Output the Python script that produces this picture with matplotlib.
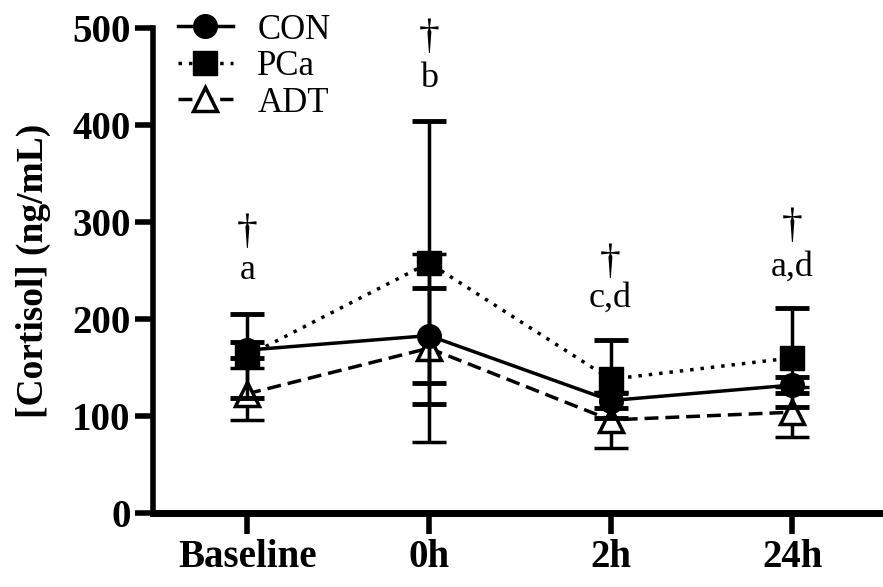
import matplotlib
matplotlib.use('Agg')
import matplotlib.pyplot as plt
import numpy as np

plt.rcParams['font.family'] = ['Liberation Serif', 'DejaVu Serif']

timepoints = ['Baseline', '0h', '2h', '24h']
con_mean = [168, 183, 116, 132]
con_err = [8, 49, 8, 8]
pca_mean = [162, 258, 138, 160]
pca_err = [43, 146, 40, 51]
adt_mean = [123, 170, 96, 104]
adt_err = [27, 97, 29, 26]

# significance labels above each time point
dagger_y = [289, 490, 258, 295]
letters = ['a', 'b', 'c,d', 'a,d']
letters_y = [250, 448, 222, 253]

fig = plt.figure(figsize=(8.83, 5.87), dpi=100)
ax = fig.add_axes([0.173, 0.126, 0.827, 0.826])

x = np.arange(len(timepoints))

style = dict(color='black', ecolor='black', elinewidth=2.5, capsize=12,
             capthick=3.5, lw=2.5, markersize=17, clip_on=False)
con = ax.errorbar(x, con_mean, yerr=con_err, marker='o', linestyle='-',
                  zorder=4, **style)
pca = ax.errorbar(x, pca_mean, yerr=pca_err, marker='s', linestyle=(0, (1, 2)),
                  zorder=3, **style)
adt = ax.errorbar(x, adt_mean, yerr=adt_err, marker='^', linestyle=(0, (4, 2)),
                  mfc='white', mec='black', mew=2.5, zorder=2, **style)

for i in range(len(timepoints)):
    ax.text(x[i], dagger_y[i], '\u2020', ha='center', va='center', fontsize=30)
    ax.text(x[i], letters_y[i], letters[i], ha='center', va='center', fontsize=26)

ax.set_xlim(-0.52, 3.5)
ax.set_ylim(0, 500)
ax.set_yticks([0, 100, 200, 300, 400, 500])
ax.set_xticks(x)
ax.set_xticklabels(timepoints)

for lab in ax.get_xticklabels() + ax.get_yticklabels():
    lab.set_fontweight('bold')
    lab.set_fontsize(28)

ax.spines['top'].set_visible(False)
ax.spines['right'].set_visible(False)
ax.spines['left'].set_linewidth(4)
ax.spines['bottom'].set_linewidth(5)
ax.tick_params(axis='y', length=13, width=4, pad=3)
ax.tick_params(axis='x', length=15, width=4, pad=4)

ax.set_ylabel('[Cortisol] (ng/mL)', fontsize=27, fontweight='bold')
ax.yaxis.set_label_coords(-0.14, 0.5)

ax.legend([con[0], pca[0], adt[0]], ['CON', 'PCa', 'ADT'],
          loc='upper left', bbox_to_anchor=(0.034, 1.03), frameon=False,
          fontsize=25, handlelength=1.6, handletextpad=0.7,
          labelspacing=0.1, borderpad=0, borderaxespad=0)

fig.savefig('out.png', dpi=100)
